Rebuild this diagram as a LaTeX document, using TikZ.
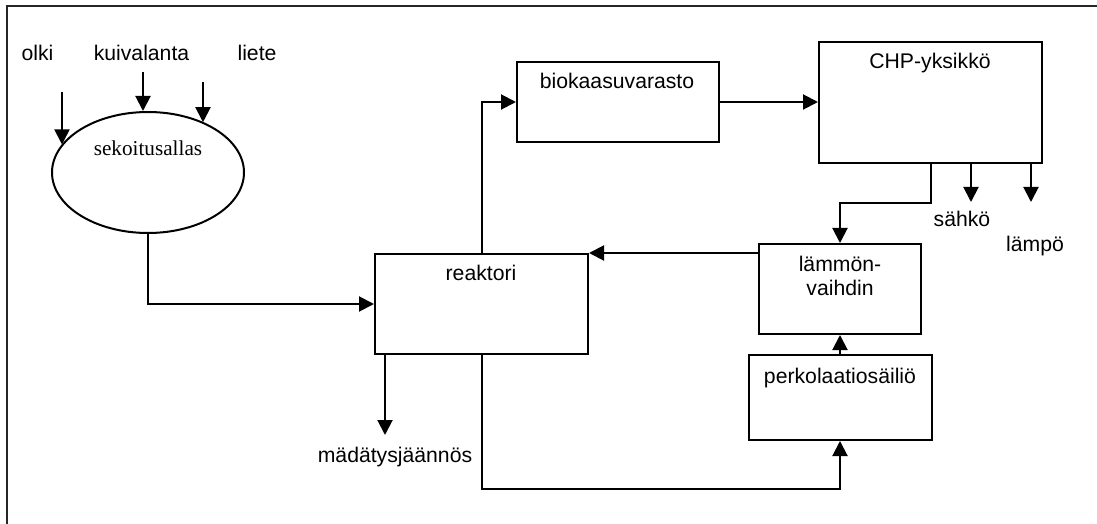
\documentclass[tikz,border=0pt]{standalone}
\usepackage{fontspec}
\setmainfont{Liberation Sans}
\newfontfamily\serifface{Liberation Serif}
\usetikzlibrary{arrows.meta,shapes.geometric}

\tikzset{
	box/.style={draw,line width=1.5pt,inner sep=0pt},
	lbl/.style={inner sep=0pt,anchor=base},
	arr/.style={line width=1.5pt,-{Triangle[length=11.25pt,width=11.25pt]}},
}

\begin{document}
\begin{tikzpicture}[x=0.75pt,y=0.75pt,yscale=-1,xscale=1,font=\fontsize{15.9pt}{18.2pt}\selectfont]
	\useasboundingbox (0,0) rectangle (1097,524);
	
	%Frame (cut off at right and bottom)
	\draw[line width=1.5pt,black!85] (7.3,524) -- (7.3,6) -- (1097,6);
	
	%Shape: Ellipse
	\node[ellipse,draw,line width=1.5pt,inner sep=0pt,minimum width=144pt,minimum height=90.75pt] (sek) at (148,172.5) {};
	%Shape: Rectangle
	\node[box,minimum width=151.5pt,minimum height=60pt] (bio) at (618,102) {};
	%Shape: Rectangle
	\node[box,minimum width=167.25pt,minimum height=90.75pt] (chp) at (930.5,102.5) {};
	%Shape: Rectangle
	\node[box,minimum width=159.75pt,minimum height=75pt] (reak) at (481.5,304) {};
	%Shape: Rectangle
	\node[box,minimum width=121.5pt,minimum height=67.5pt] (lamm) at (840,289) {};
	%Shape: Rectangle
	\node[box,minimum width=137.25pt,minimum height=63.75pt] (perk) at (840,397.5) {};
	
	% Text Node
	\node[lbl,font=\serifface\fontsize{15.9pt}{18.2pt}\selectfont] (sektxt) at (148,156) {sekoitusallas};
	% Text Node
	\node[lbl] (biotxt) at (617,89) {biokaasuvarasto};
	% Text Node
	\node[lbl] (chptxt) at (930,69) {CHP-yksikkö};
	% Text Node
	\node[lbl] (reaktxt) at (481,281) {reaktori};
	% Text Node
	\node[inner sep=0pt,anchor=north,align=center] (lammtxt) at (840,256) {lämmön-\\vaihdin};
	% Text Node
	\node[lbl] (perktxt) at (840,383) {perkolaatiosäiliö};
	% Text Node
	\node[lbl] (olki) at (37.5,61) {olki};
	% Text Node
	\node[lbl] (kuiv) at (141.5,61) {kuivalanta};
	% Text Node
	\node[lbl] (liete) at (257,61) {liete};
	% Text Node
	\node[lbl] (sahko) at (962,227) {sähkö};
	% Text Node
	\node[lbl] (lampo) at (1035,252) {lämpö};
	% Text Node
	\node[lbl] (mad) at (395,462) {mädätysjäännös};
	
	%free arrow ends
	\coordinate (olkistart) at (62,92);
	\coordinate (kuivstart) at (143,72);
	\coordinate (lietestart) at (203,82);
	\coordinate (sahkoend) at (971,202);
	\coordinate (lampoend) at (1031,202);
	\coordinate (madend) at (385,435);
	
	%Straight Lines
	\draw[arr] (olkistart) -- (olkistart |- sek.162.6);
	\draw[arr] (kuivstart) -- (kuivstart |- sek.north);
	\draw[arr] (lietestart) -- (lietestart |- sek.42);
	\draw[arr] (sek.south) |- (reak.west);
	\draw[arr] (reak.north) |- (bio.west);
	\draw[arr] (bio.east) -- (bio.east -| chp.west);
	\draw[arr] (chp.south) -- ++(0,39) -| (lamm.north);
	\draw[arr] (sahkoend |- chp.south) -- (sahkoend);
	\draw[arr] (lampoend |- chp.south) -- (lampoend);
	\draw[arr] (lamm.west |- reak.north) -- (reak.north east);
	\draw[arr] (perk.north) -- (lamm.south);
	\draw[arr] (reak.south) -- ++(0,134) -| (perk.south);
	\draw[arr] (madend |- reak.south) -- (madend);
	
\end{tikzpicture}
\end{document}
